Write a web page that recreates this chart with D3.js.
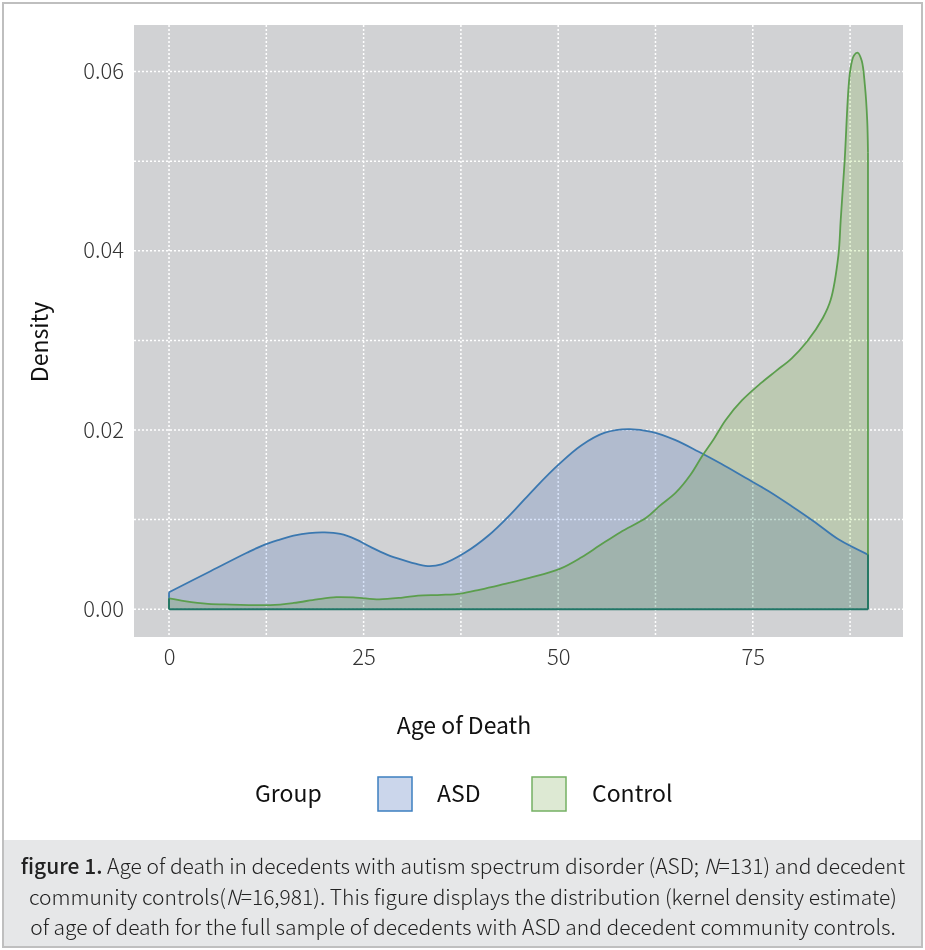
<!DOCTYPE html>
<html>
<head>
<meta charset="utf-8">
<script src="https://cdn.jsdelivr.net/npm/d3@7"></script>
<style>
  body { margin: 0; background: #fff; }
  svg text { font-family: "Noto Sans CJK KR", "Noto Sans", sans-serif; }
</style>
</head>
<body>
<div id="chart"></div>
<script>
// kernel density estimate
const asdAge = [0, 5, 10, 12, 14, 16, 18, 20, 22, 24, 26, 28, 30, 32, 33.5, 35, 38, 41, 44, 47, 50, 53, 56, 59, 62, 65, 68, 71, 74, 77, 80, 83, 86, 89.8];
const asdDensity = [0.0019, 0.0041, 0.0063, 0.0071, 0.0077, 0.0082, 0.0085, 0.00858, 0.0084, 0.0078, 0.0069, 0.0061, 0.0055, 0.0050, 0.0048, 0.0050, 0.0063, 0.0082, 0.0107, 0.0135, 0.0161, 0.0183, 0.0197, 0.0201, 0.0198, 0.0189, 0.0176, 0.0162, 0.0147, 0.0132, 0.0115, 0.0097, 0.0078, 0.0061];

const ctlAge = [0, 2, 5, 8, 13, 16, 19, 21.5, 24, 27, 30, 32, 35, 37.5, 40, 42.5, 46.3, 50.2, 53, 55.3, 58, 61.3, 63, 65.1, 67, 68.5, 70, 71.5, 73.6, 76, 78, 80, 82, 84, 85, 86, 86.3, 86.8, 87.5, 88, 88.5, 89, 89.4, 89.7, 89.8];
const ctlDensity = [0.0012, 0.0009, 0.0006, 0.00052, 0.00046, 0.0007, 0.0011, 0.00135, 0.0013, 0.0011, 0.0013, 0.00152, 0.0016, 0.00175, 0.0022, 0.0027, 0.0035, 0.0045, 0.0058, 0.0071, 0.0086, 0.0102, 0.0115, 0.0130, 0.0150, 0.0171, 0.0190, 0.0211, 0.0233, 0.0252, 0.0266, 0.0280, 0.0299, 0.0325, 0.0345, 0.0395, 0.0435, 0.0500, 0.0600, 0.0618, 0.0621, 0.0612, 0.0585, 0.0546, 0.0510];

const xTicks = [0, 25, 50, 75];
const xMinor = [12.5, 37.5, 62.5, 87.5];
const yTicks = [0, 0.02, 0.04, 0.06];
const yMinor = [0.01, 0.03, 0.05];
const groups = ["ASD", "Control"];

const W = 925, H = 950;
const svg = d3.select("#chart").append("svg").attr("width", W).attr("height", H);

const x = d3.scaleLinear().domain([-4.5, 94.3]).range([134, 903]);
const y = d3.scaleLinear().domain([-0.0031, 0.0652]).range([637, 25]);

// outer frame
svg.append("rect").attr("x", 3).attr("y", 3).attr("width", 919).attr("height", 944)
  .attr("fill", "#fff").attr("stroke", "#bfbfbf").attr("stroke-width", 2);

// panel
svg.append("rect").attr("x", 134).attr("y", 25).attr("width", 769).attr("height", 612).attr("fill", "#d1d2d4");

const grid = svg.append("g").attr("stroke", "#fff").attr("stroke-width", 1.5).attr("stroke-dasharray", "2,2");
xTicks.concat(xMinor).forEach(v => {
  grid.append("line").attr("x1", x(v)).attr("x2", x(v)).attr("y1", 25).attr("y2", 637);
});
yTicks.concat(yMinor).forEach(v => {
  grid.append("line").attr("x1", 134).attr("x2", 903).attr("y1", y(v)).attr("y2", y(v));
});

function pts(ages, dens) {
  return ages.map((a, i) => [a, dens[i]]);
}
const area = d3.area().x(d => x(d[0])).y0(y(0)).y1(d => y(d[1])).curve(d3.curveCatmullRom.alpha(0.5));
const line = d3.line().x(d => x(d[0])).y(d => y(d[1])).curve(d3.curveCatmullRom.alpha(0.5));

const asd = pts(asdAge, asdDensity);
const ctl = pts(ctlAge, ctlDensity);

svg.append("path").attr("d", area(asd)).attr("fill", "#d8e3f8").style("mix-blend-mode", "multiply");
svg.append("path").attr("d", area(ctl)).attr("fill", "#e6f5d6").style("mix-blend-mode", "multiply");

function outline(p, color) {
  const first = p[0], last = p[p.length - 1];
  svg.append("path").attr("d", line(p)).attr("fill", "none").attr("stroke", color).attr("stroke-width", 1.8);
  svg.append("line").attr("x1", x(first[0])).attr("x2", x(first[0])).attr("y1", y(0)).attr("y2", y(first[1]))
    .attr("stroke", color).attr("stroke-width", 1.8);
  svg.append("line").attr("x1", x(last[0])).attr("x2", x(last[0])).attr("y1", y(0)).attr("y2", y(last[1]))
    .attr("stroke", color).attr("stroke-width", 1.8);
}
outline(asd, "#3b78b0");
outline(ctl, "#5b9e4d");
// baseline where both outlines meet
svg.append("line").attr("x1", x(0)).attr("x2", x(89.8)).attr("y1", y(0)).attr("y2", y(0))
  .attr("stroke", "#217566").attr("stroke-width", 2);
svg.append("line").attr("x1", x(0)).attr("x2", x(0)).attr("y1", y(0)).attr("y2", y(0.0012))
  .attr("stroke", "#217566").attr("stroke-width", 1.8);
svg.append("line").attr("x1", x(89.8)).attr("x2", x(89.8)).attr("y1", y(0)).attr("y2", y(0.0061))
  .attr("stroke", "#217566").attr("stroke-width", 1.8);

// axes
const xAxis = svg.append("g").attr("transform", "translate(0,637)")
  .call(d3.axisBottom(x).tickValues(xTicks).tickSize(0).tickPadding(12));
const yAxis = svg.append("g").attr("transform", "translate(134,0)")
  .call(d3.axisLeft(y).tickValues(yTicks).tickFormat(d3.format(".2f")).tickSize(0).tickPadding(10));
[xAxis, yAxis].forEach(a => {
  a.select(".domain").remove();
  a.selectAll("text").attr("font-size", 22).attr("font-weight", 300).attr("fill", "#333")
    .attr("font-family", "'Noto Sans CJK KR', 'Noto Sans', sans-serif");
});

svg.append("text").attr("x", 464).attr("y", 734).attr("text-anchor", "middle")
  .attr("font-size", 23).attr("fill", "#111").text("Age of Death");
svg.append("text").attr("transform", "translate(48,342) rotate(-90)").attr("text-anchor", "middle")
  .attr("font-size", 23).attr("fill", "#111").text("Density");

// legend
const legend = svg.append("g");
legend.append("text").attr("x", 255).attr("y", 802).attr("font-size", 23).attr("fill", "#111").text("Group");
const keyFill = ["#cbd6eb", "#dde9d3"], keyStroke = ["#3d7fc0", "#74b063"];
const keyX = [378, 532], labX = [437, 592];
groups.forEach((g, i) => {
  legend.append("rect").attr("x", keyX[i]).attr("y", 777).attr("width", 34).attr("height", 34)
    .attr("fill", keyFill[i]).attr("stroke", keyStroke[i]).attr("stroke-width", 1.5);
  legend.append("text").attr("x", labX[i]).attr("y", 802).attr("font-size", 23).attr("fill", "#111").text(g);
});

// caption
svg.append("rect").attr("x", 4).attr("y", 840).attr("width", 917).attr("height", 106).attr("fill", "#e6e7e8");
const cap = svg.append("g").attr("font-size", 21).attr("font-weight", 300).attr("fill", "#222").attr("text-anchor", "middle");
const l1 = cap.append("text").attr("x", 463).attr("y", 874);
l1.append("tspan").attr("font-weight", 500).text("figure 1.");
l1.append("tspan").text(" Age of death in decedents with autism spectrum disorder (ASD; ");
l1.append("tspan").attr("font-style", "italic").text("N");
l1.append("tspan").text("=131) and decedent");
const l2 = cap.append("text").attr("x", 463).attr("y", 905);
l2.append("tspan").text("community controls(");
l2.append("tspan").attr("font-style", "italic").text("N");
l2.append("tspan").text("=16,981). This figure displays the distribution (kernel density estimate)");
cap.append("text").attr("x", 463).attr("y", 935)
  .text("of age of death for the full sample of decedents with ASD and decedent community controls.");
</script>
</body>
</html>
